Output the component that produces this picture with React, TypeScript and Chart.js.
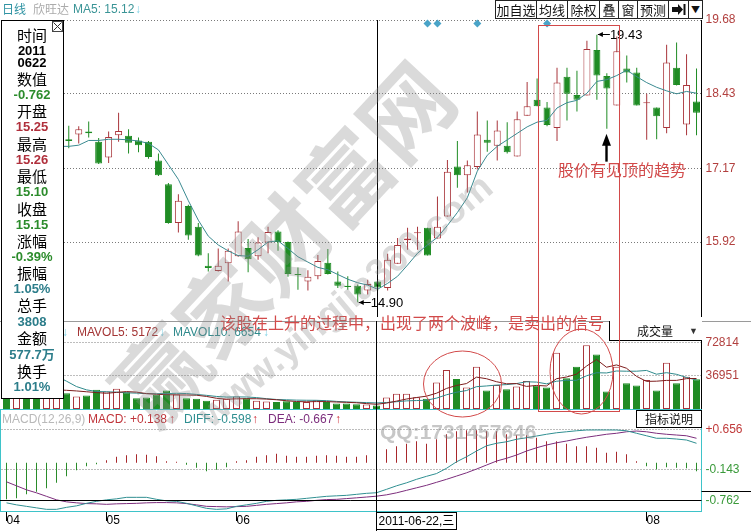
import React, { useEffect, useRef } from 'react';
import { Chart, registerables } from 'chart.js';

Chart.register(...registerables);
Chart.defaults.font.family = '"Liberation Sans", "DejaVu Sans", sans-serif';
Chart.defaults.font.size = 12;

// ---- 欣旺达 daily K-line, 70 sessions ----
const OPEN = [17.90, 17.30, 17.70, 17.60, 17.40, 17.50, 17.66, 17.74, 17.79, 17.62,
  17.35, 17.73, 17.72, 17.64, 17.62, 17.30, 16.90, 16.24, 16.53, 16.18,
  15.52, 15.43, 15.56, 15.68, 15.82, 15.68, 15.91, 16.10, 15.92, 15.37,
  15.25, 15.34, 15.57, 15.25, 15.18, 15.18, 15.10, 15.25, 15.14, 15.55,
  15.95, 16.07, 16.16, 15.98, 16.35, 17.20, 17.05, 17.19, 17.65, 17.55,
  17.55, 17.37, 18.06, 18.33, 18.20, 17.85, 18.72, 18.41, 18.40, 19.17,
  18.73, 18.23, 18.86, 18.79, 18.27, 18.20, 17.85, 18.87, 17.91, 18.30];
const HIGH = [18.30, 17.80, 17.90, 17.70, 17.75, 17.80, 17.89, 17.88, 17.96, 17.68,
  17.79, 18.11, 17.83, 17.69, 17.63, 17.42, 16.92, 16.73, 16.55, 16.24,
  15.73, 15.81, 15.81, 16.27, 15.97, 16.00, 16.18, 16.12, 15.93, 15.49,
  15.44, 15.70, 15.80, 15.42, 15.34, 15.20, 15.28, 15.26, 15.72, 15.99,
  16.16, 16.18, 16.16, 16.69, 17.31, 17.63, 17.30, 18.13, 17.98, 17.98,
  17.95, 18.13, 18.63, 18.69, 18.29, 18.87, 18.87, 18.82, 19.33, 19.43,
  18.78, 19.40, 19.08, 18.87, 18.43, 18.20, 19.26, 19.30, 19.10, 18.86];
const LOW = [17.20, 17.10, 17.30, 17.30, 17.30, 17.45, 17.51, 17.59, 17.69, 17.24,
  17.26, 17.62, 17.42, 17.44, 17.33, 17.04, 16.23, 16.08, 15.96, 15.68,
  15.42, 15.42, 15.25, 15.67, 15.41, 15.62, 15.73, 15.77, 15.33, 15.11,
  15.10, 15.29, 15.37, 15.14, 15.11, 14.90, 15.03, 15.10, 15.10, 15.55,
  15.79, 15.79, 15.69, 15.98, 16.35, 16.84, 16.76, 17.15, 17.45, 17.30,
  17.42, 17.37, 18.06, 18.22, 17.88, 17.63, 17.98, 18.13, 18.40, 18.33,
  17.84, 18.23, 18.62, 18.23, 17.65, 17.66, 17.76, 18.57, 17.73, 17.73];
const CLOSE = [17.40, 17.60, 17.40, 17.45, 17.60, 17.65, 17.63, 17.83, 17.76, 17.25,
  17.70, 17.80, 17.60, 17.56, 17.36, 17.05, 16.24, 16.62, 16.03, 15.69,
  15.48, 15.52, 15.77, 16.10, 15.63, 15.91, 16.09, 15.92, 15.38, 15.36,
  15.33, 15.60, 15.38, 15.18, 15.16, 15.03, 15.21, 15.15, 15.62, 15.87,
  15.98, 16.085, 15.69, 16.18, 17.11, 17.05, 17.22, 17.74, 17.60, 17.81,
  17.44, 18.00, 18.22, 18.22, 17.90, 18.62, 18.43, 18.33, 19.19, 18.74,
  18.52, 19.15, 18.79, 18.23, 18.285, 18.05, 18.96, 18.58, 18.58, 18.11];
const MA5 = [null, null, null, null, 17.49, 17.54, 17.54, 17.56, 17.64, 17.64,
  17.66, 17.66, 17.65, 17.63, 17.59, 17.48, 17.23, 16.98, 16.62, 16.29,
  16.02, 15.87, 15.77, 15.69, 15.68, 15.79, 15.92, 15.94, 15.81, 15.67,
  15.58, 15.49, 15.45, 15.37, 15.29, 15.23, 15.19, 15.12, 15.22, 15.34,
  15.53, 15.73, 15.87, 16.00, 16.20, 16.42, 16.67, 17.12, 17.39, 17.54,
  17.65, 17.76, 17.87, 17.95, 17.98, 18.19, 18.28, 18.32, 18.44, 18.64,
  18.67, 18.74, 18.83, 18.72, 18.62, 18.54, 18.48, 18.43, 18.47, 18.44];

// volume in lots (手)
const VOLUME = [78000, 43000, 33000, 28000, 25000, 22000, 17300, 13800, 14800, 21000,
  19200, 22100, 18400, 11900, 12700, 15600, 20300, 16300, 11900, 11300,
  9100, 10200, 11300, 13800, 11900, 9100, 8300, 7600, 8400, 7600,
  7600, 9500, 7582, 6000, 6000, 5200, 4850, 3808, 12700, 16700,
  16700, 13000, 11200, 29000, 42800, 33000, 23500, 46400, 20300, 26400,
  21700, 24600, 30800, 25700, 23500, 61600, 33700, 46400, 70000, 59700,
  19200, 46400, 28200, 25700, 31900, 20300, 50700, 28200, 35500, 32600];
const MAVOL5 = [null, null, null, null, 25000, 21000, 20500, 19800, 18900, 18000,
  17220, 18180, 19100, 18520, 16860, 16140, 15780, 15360, 15360, 15080,
  13780, 11760, 10760, 11140, 11260, 11260, 10880, 10140, 9060, 8200,
  7900, 8140, 8136, 7656, 7336, 6856, 5926, 5172, 6512, 8652,
  10952, 12582, 14060, 17320, 22540, 25800, 27900, 34940, 33200, 29920,
  27660, 27880, 24760, 25840, 25260, 33240, 35060, 38180, 47040, 54280,
  45800, 48340, 44700, 35840, 30280, 30500, 31360, 31360, 33320, 33460];
const MAVOL10 = [null, null, null, null, 40000, 36000, 30500, 24600, 21000, 19200,
  18900, 18500, 17750, 17380, 16900, 16680, 16980, 17230, 16940, 15970,
  14960, 13770, 13060, 13250, 13170, 12520, 11320, 10450, 10100, 9730,
  9580, 9510, 9138, 8358, 7768, 7378, 7033, 6654, 7084, 7994,
  8904, 9254, 9616, 11916, 15596, 18376, 20241, 24500, 25260, 26230,
  26730, 27890, 29850, 29520, 27590, 30450, 31470, 31470, 36440, 39770,
  39520, 41700, 41440, 41440, 42280, 38150, 39850, 38030, 34580, 31870];

// MACD(12,26,9)
const DIFF = [-0.80, -0.84, -0.87, -0.90, -0.93, -0.93, -0.89, -0.86, -0.81, -0.77,
  -0.74, -0.72, -0.69, -0.69, -0.69, -0.73, -0.76, -0.77, -0.81, -0.86,
  -0.91, -0.93, -0.92, -0.87, -0.84, -0.81, -0.77, -0.75, -0.74, -0.73,
  -0.71, -0.69, -0.67, -0.66, -0.65, -0.63, -0.61, -0.598, -0.53, -0.46,
  -0.40, -0.33, -0.27, -0.215, -0.11, 0.02, 0.12, 0.235, 0.34, 0.39,
  0.42, 0.47, 0.50, 0.535, 0.57, 0.60, 0.62, 0.64, 0.655, 0.656,
  0.656, 0.655, 0.64, 0.59, 0.54, 0.49, 0.49, 0.475, 0.455, 0.39];
const DEA = [-0.38, -0.46, -0.54, -0.60, -0.67, -0.74, -0.78, -0.80, -0.815, -0.82,
  -0.83, -0.82, -0.815, -0.81, -0.80, -0.795, -0.795, -0.80, -0.815, -0.84,
  -0.87, -0.875, -0.88, -0.875, -0.87, -0.85, -0.83, -0.815, -0.80, -0.78,
  -0.77, -0.75, -0.735, -0.73, -0.715, -0.70, -0.684, -0.667, -0.64, -0.60,
  -0.55, -0.50, -0.45, -0.39, -0.33, -0.265, -0.20, -0.125, -0.045, 0.035,
  0.09, 0.155, 0.235, 0.30, 0.355, 0.40, 0.435, 0.475, 0.51, 0.54,
  0.57, 0.59, 0.62, 0.635, 0.62, 0.59, 0.57, 0.555, 0.54, 0.49];
const MACD = [-0.73, -0.71, -0.63, -0.58, -0.51, -0.40, -0.27, -0.15, -0.07, -0.03,
  0.05, 0.12, 0.15, 0.17, 0.16, 0.13, 0.03, 0.02, -0.04, -0.10,
  -0.17, -0.14, -0.09, 0.03, 0.05, 0.12, 0.15, 0.18, 0.14, 0.12,
  0.12, 0.14, 0.15, 0.14, 0.12, 0.12, 0.15, 0.138, 0.27, 0.33,
  0.38, 0.43, 0.38, 0.47, 0.57, 0.63, 0.65, 0.65, 0.63, 0.63,
  0.57, 0.55, 0.55, 0.50, 0.43, 0.43, 0.38, 0.33, 0.33, 0.30,
  0.20, 0.22, 0.17, 0.03, -0.07, -0.13, -0.09, -0.10, -0.11, -0.17];

const DAYS = OPEN.map((_, i) => `T${i + 1}`);
const MONTH_TICKS = [0, 10, 23, 45, 64];
const MONTH_LABELS = ['04', '05', '06', '', '08'];
const PRICE_TICKS = [15.92, 17.17, 18.43, 19.68];
const VOLUME_TICKS = [36951, 72814];
const MACD_TICKS = [-0.762, -0.143, 0.656];
const SIGNAL_DAYS = [42, 43, 47, 54];
const SIGNAL_LEVEL = 19.62;
const CURSOR = 37;
const CURSOR_DATE = '2011-06-22,三';
const CURSOR_VALUE = -0.762;
const PEAK_DAY = 59;
const TROUGH_DAY = 35;
const ARROW_DAY = 60;

const IS_UP = OPEN.map((o, i) => CLOSE[i] >= o);

const RED = '#a9353b';
const GREEN = '#1f8c24';
const AXIS_RED = '#b2403f';
const TEAL = '#3ec3c9';
const NOTE_RED = '#d24a4a';

// session centre on the shared 10px-per-day layout (chart area starts at x = 1.5)
const xAt = (i: number) => 6.5 + 10 * i;

function dottedGrid(skip: number[]) {
  return {
    id: 'dottedGrid',
    beforeDatasetsDraw(chart: any) {
      const { ctx, chartArea: a } = chart;
      const ys = chart.scales.y;
      ctx.save();
      ctx.strokeStyle = '#7a7a7a';
      ctx.lineWidth = 1;
      ctx.setLineDash([1, 2]);
      for (const t of ys.ticks) {
        if (skip.includes(t.value)) continue;
        const y = Math.floor(ys.getPixelForValue(t.value)) + 0.5;
        ctx.beginPath();
        ctx.moveTo(a.left, y);
        ctx.lineTo(a.right, y);
        ctx.stroke();
      }
      ctx.restore();
    },
  };
}

function panelEdge(color: string) {
  return {
    id: 'panelEdge',
    afterDraw(chart: any) {
      const { ctx, chartArea: a } = chart;
      const x = Math.floor(a.right) + 0.5;
      ctx.save();
      ctx.strokeStyle = color;
      ctx.lineWidth = 1;
      ctx.beginPath();
      ctx.moveTo(x, a.top);
      ctx.lineTo(x, a.bottom);
      ctx.stroke();
      ctx.restore();
    },
  };
}

function cursorLine(full: boolean) {
  return {
    id: 'cursorLine',
    afterDraw(chart: any) {
      const { ctx, chartArea: a } = chart;
      const x = Math.floor(chart.scales.x.getPixelForValue(CURSOR)) + 0.5;
      ctx.save();
      ctx.strokeStyle = '#000';
      ctx.lineWidth = 1;
      ctx.beginPath();
      ctx.moveTo(x, a.top);
      ctx.lineTo(x, full ? chart.height : a.bottom);
      ctx.stroke();
      ctx.restore();
    },
  };
}

const priceNotes = {
  id: 'priceNotes',
  afterDatasetsDraw(chart: any) {
    const { ctx } = chart;
    const xs = chart.scales.x;
    const ys = chart.scales.y;
    const note = (day: number, value: number) => {
      const x = xs.getPixelForValue(day);
      const y = Math.floor(ys.getPixelForValue(value)) + 0.5;
      ctx.strokeStyle = '#000';
      ctx.fillStyle = '#000';
      ctx.lineWidth = 1;
      ctx.beginPath();
      ctx.moveTo(x + 1, y);
      ctx.lineTo(x + 13, y);
      ctx.stroke();
      ctx.beginPath();
      ctx.moveTo(x + 1, y);
      ctx.lineTo(x + 6, y - 2.5);
      ctx.lineTo(x + 6, y + 2.5);
      ctx.closePath();
      ctx.fill();
      ctx.font = '13px "Liberation Sans"';
      ctx.textAlign = 'left';
      ctx.textBaseline = 'middle';
      ctx.fillText(value.toFixed(2), x + 13, y + 1);
    };
    ctx.save();
    note(PEAK_DAY, HIGH[PEAK_DAY]);
    note(TROUGH_DAY, LOW[TROUGH_DAY]);
    // upward arrow under the pull-back session
    const ax = Math.floor(xs.getPixelForValue(ARROW_DAY)) + 0.5;
    const tip = ys.getPixelForValue(LOW[ARROW_DAY]) + 5;
    ctx.fillStyle = '#000';
    ctx.beginPath();
    ctx.moveTo(ax, tip);
    ctx.lineTo(ax - 4.5, tip + 12);
    ctx.lineTo(ax + 4.5, tip + 12);
    ctx.closePath();
    ctx.fill();
    ctx.fillRect(ax - 1.2, tip + 10, 2.4, 18);
    ctx.restore();
  },
};

const volumeFrame = {
  id: 'volumeFrame',
  afterDraw(chart: any) {
    const { ctx } = chart;
    ctx.save();
    ctx.strokeStyle = '#9a9a9a';
    ctx.lineWidth = 1;
    ctx.beginPath();
    ctx.moveTo(0, 0.5);
    ctx.lineTo(chart.width, 0.5);
    ctx.stroke();
    ctx.restore();
  },
};

const macdFrame = {
  id: 'macdFrame',
  afterDraw(chart: any) {
    const { ctx, chartArea: a } = chart;
    const xs = chart.scales.x;
    const ys = chart.scales.y;
    ctx.save();
    ctx.strokeStyle = TEAL;
    ctx.lineWidth = 1;
    ctx.strokeRect(0.5, 0.5, Math.floor(a.right), Math.floor(a.bottom));
    // horizontal crosshair
    const hy = Math.floor(ys.getPixelForValue(CURSOR_VALUE)) + 0.5;
    ctx.strokeStyle = '#000';
    ctx.beginPath();
    ctx.moveTo(0, hy);
    ctx.lineTo(a.right, hy);
    ctx.stroke();
    ctx.beginPath();
    ctx.moveTo(a.right, hy - 9);
    ctx.lineTo(chart.width, hy - 9);
    ctx.stroke();
    // date box on the time axis
    const cx = Math.floor(xs.getPixelForValue(CURSOR)) + 0.5;
    const top = Math.floor(a.bottom) + 1.5;
    ctx.fillStyle = '#fff';
    ctx.fillRect(cx, top, 80, 17);
    ctx.strokeRect(cx, top, 80, 17);
    ctx.fillStyle = '#000';
    ctx.font = '12px "Liberation Sans", "Noto Sans CJK SC"';
    ctx.textAlign = 'left';
    ctx.textBaseline = 'middle';
    ctx.fillText(CURSOR_DATE, cx + 2, top + 9);
    ctx.restore();
  },
};

function rightAxis(min: number, max: number, ticks: number[], fmt: (v: number) => string, color: any) {
  return {
    position: 'right',
    min,
    max,
    afterBuildTicks: (s: any) => { s.ticks = ticks.map((v) => ({ value: v })); },
    afterFit: (s: any) => { s.width = 49.5; s.paddingTop = 0; s.paddingBottom = 0; },
    grid: { display: false, drawTicks: false },
    border: { display: false },
    ticks: { color, padding: 4, autoSkip: false, font: { size: 12 }, callback: (v: any) => fmt(Number(v)) },
  };
}

const hiddenX = {
  type: 'category', display: false, offset: true, grid: { display: false },
  afterFit: (s: any) => { s.paddingLeft = 0; s.paddingRight = 0; },
};

const baseOptions = (padTop: number) => ({
  responsive: false,
  animation: false,
  events: [],
  layout: { padding: { left: 1.5, top: padTop, right: 0, bottom: 0 } },
  plugins: { legend: { display: false }, tooltip: { enabled: false } },
});

function mainConfig() {
  const edge = IS_UP.map((u) => (u ? RED : GREEN));
  const fill = IS_UP.map((u, i) => (u ? (Math.abs(CLOSE[i] - OPEN[i]) < 0.035 ? RED : '#ffffff') : GREEN));
  const signals = DAYS.map((_, i) => (SIGNAL_DAYS.includes(i) ? SIGNAL_LEVEL : null));
  return {
    type: 'bar',
    data: {
      labels: DAYS,
      datasets: [
        { type: 'line', data: signals, showLine: false, pointStyle: 'rectRot', pointRadius: 4, pointBackgroundColor: '#4aa4c8', pointBorderWidth: 0, order: -1, clip: false },
        { type: 'line', data: MA5, borderColor: '#3a8a90', borderWidth: 1, pointRadius: 0, tension: 0, order: 0 },
        { type: 'bar', data: OPEN.map((o, i) => [o, CLOSE[i]]), barThickness: 7, minBarLength: 1, backgroundColor: fill, borderColor: edge, borderWidth: 1, borderSkipped: false, grouped: false, inflateAmount: 0, order: 1 },
        { type: 'bar', data: LOW.map((l, i) => [l, HIGH[i]]), barThickness: 1, backgroundColor: edge, borderWidth: 0, grouped: false, inflateAmount: 0, order: 2 },
      ],
    },
    options: {
      ...baseOptions(20),
      scales: {
        x: hiddenX,
        y: rightAxis(14.65, 19.68, PRICE_TICKS, (v) => v.toFixed(2), AXIS_RED),
      },
    },
    plugins: [dottedGrid([]), priceNotes, panelEdge('#000'), cursorLine(false)],
  };
}

function volumeConfig() {
  const edge = IS_UP.map((u) => (u ? RED : GREEN));
  const fill = IS_UP.map((u) => (u ? '#ffffff' : GREEN));
  return {
    type: 'bar',
    data: {
      labels: DAYS,
      datasets: [
        { type: 'line', data: MAVOL5, borderColor: '#7e1d1d', borderWidth: 1, pointRadius: 0, order: 0 },
        { type: 'line', data: MAVOL10, borderColor: '#2f8a8c', borderWidth: 1, pointRadius: 0, order: 0 },
        { type: 'bar', data: VOLUME, barThickness: 7, backgroundColor: fill, borderColor: edge, borderWidth: 1, borderSkipped: false, grouped: false, inflateAmount: 0, order: 1 },
      ],
    },
    options: {
      ...baseOptions(0),
      scales: {
        x: hiddenX,
        y: rightAxis(0, 96500, VOLUME_TICKS, (v) => String(Math.round(v)), AXIS_RED),
      },
    },
    plugins: [dottedGrid([]), volumeFrame, panelEdge('#000'), cursorLine(false)],
  };
}

function macdConfig() {
  const tickColor = (c: any) => (MONTH_TICKS.includes(c.index) ? '#000' : 'rgba(0,0,0,0)');
  return {
    type: 'bar',
    data: {
      labels: DAYS,
      datasets: [
        { type: 'line', data: DIFF, borderColor: '#2f8f91', borderWidth: 1, pointRadius: 0, order: 0 },
        { type: 'line', data: DEA, borderColor: '#7c2d7c', borderWidth: 1, pointRadius: 0, order: 0 },
        { type: 'bar', data: MACD, barThickness: 1, backgroundColor: MACD.map((v) => (v >= 0 ? '#a8282c' : '#2a8c2a')), borderWidth: 0, grouped: false, inflateAmount: 0, order: 1 },
      ],
    },
    options: {
      ...baseOptions(0),
      scales: {
        x: {
          type: 'category',
          offset: true,
          afterFit: (s: any) => { s.height = 20; s.paddingLeft = 0; s.paddingRight = 0; },
          grid: { display: true, drawOnChartArea: false, drawTicks: true, tickLength: 10, offset: false, lineWidth: 1, color: tickColor, tickColor },
          border: { display: false },
          ticks: {
            autoSkip: false, maxRotation: 0, minRotation: 0, align: 'start', padding: -8, color: '#000', font: { size: 12 },
            callback: (_v: any, i: number) => { const k = MONTH_TICKS.indexOf(i); return k >= 0 ? MONTH_LABELS[k] : ''; },
          },
        },
        y: rightAxis(-0.963, 1.075, MACD_TICKS, (v) => (v > 0 ? '+' : '') + v.toFixed(3),
          (c: any) => (c.tick && c.tick.value > 0 ? '#c03a3a' : '#3a9a3a')),
      },
    },
    plugins: [dottedGrid([CURSOR_VALUE]), macdFrame, cursorLine(true)],
  };
}

const INFO_ROWS: Array<[string, number, string]> = [
  ['时间', 35, 'label'], ['2011', 51, 'date'], ['0622', 63, 'date'],
  ['数值', 79, 'label'], ['-0.762', 95, 'green'],
  ['开盘', 111, 'label'], ['15.25', 127, 'red'],
  ['最高', 144, 'label'], ['15.26', 160, 'red'],
  ['最低', 176, 'label'], ['15.10', 192, 'green'],
  ['收盘', 209, 'label'], ['15.15', 225, 'green'],
  ['涨幅', 241, 'label'], ['-0.39%', 257, 'green'],
  ['振幅', 273, 'label'], ['1.05%', 289, 'teal'],
  ['总手', 305, 'label'], ['3808', 321.5, 'teal'],
  ['金额', 338, 'label'], ['577.7万', 355, 'teal'],
  ['换手', 371, 'label'], ['1.01%', 387, 'teal'],
];
const INFO_COLORS: Record<string, string> = { date: '#000', green: '#2c8c2c', red: '#b0303c', teal: '#2c7d8a' };

const TOOLBAR: Array<[string, number, number]> = [
  ['加自选', 495, 536], ['均线', 536, 567], ['除权', 567, 599], ['叠', 599, 618],
  ['窗', 618, 637], ['预测', 637, 668], ['', 668, 688], ['▼', 688, 702],
];

const CJK = '"Noto Sans CJK SC", "Liberation Sans", sans-serif';
const LAT = '"Liberation Sans", "DejaVu Sans", "Noto Sans CJK SC", sans-serif';

function Txt(props: { x: number; y: number; color: string; size?: number; font?: string; bold?: boolean; children: React.ReactNode }) {
  const size = props.size ?? 12;
  return (
    <div style={{ position: 'absolute', left: props.x, top: props.y - 8, lineHeight: '16px', height: 16, fontSize: size, color: props.color, fontFamily: props.font ?? LAT, fontWeight: props.bold ? 700 : 400, whiteSpace: 'nowrap' }}>
      {props.children}
    </div>
  );
}

export default function App() {
  const mainRef = useRef<HTMLCanvasElement | null>(null);
  const volRef = useRef<HTMLCanvasElement | null>(null);
  const macdRef = useRef<HTMLCanvasElement | null>(null);

  useEffect(() => {
    const charts = [
      new Chart(mainRef.current as HTMLCanvasElement, mainConfig() as any),
      new Chart(volRef.current as HTMLCanvasElement, volumeConfig() as any),
      new Chart(macdRef.current as HTMLCanvasElement, macdConfig() as any),
    ];
    return () => charts.forEach((c) => c.destroy());
  }, []);

  const canvasStyle = (top: number): React.CSSProperties => ({ position: 'absolute', left: 0, top });

  return (
    <div style={{ position: 'absolute', left: 0, top: 0, width: 751, height: 531, background: '#fff', overflow: 'hidden', fontFamily: LAT }}>
      <canvas ref={mainRef} width={751} height={321} style={canvasStyle(0)} />
      <canvas ref={volRef} width={751} height={88} style={canvasStyle(321)} />
      <canvas ref={macdRef} width={751} height={122} style={canvasStyle(409)} />

      {/* title row */}
      <Txt x={2} y={9} color="#2f93a3" font={CJK}>日线</Txt>
      <Txt x={33} y={9} color="#ababab" font={CJK}>欣旺达</Txt>
      <Txt x={73} y={9} color="#3a9496">MA5: 15.12</Txt>
      <Txt x={135} y={9} color="#7fd3e6" bold>↓</Txt>

      {/* toolbar */}
      {TOOLBAR.map(([t, l, r], i) => (
        <div key={i} style={{ position: 'absolute', left: l, top: 0, width: r - l + 1, height: 19, boxSizing: 'border-box', border: '1px solid #222', background: '#fff', fontFamily: CJK, fontSize: t === '▼' ? 9 : 13, lineHeight: '17px', textAlign: 'center', color: '#111' }}>
          {t === '' ? (
            <svg width={18} height={17} style={{ display: 'block' }}>
              <polygon points="3,6 9,6 9,3 14,8.5 9,14 9,11 3,11" fill="#111" />
              <rect x={14.5} y={3} width={2} height={11} fill="#111" />
            </svg>
          ) : t}
        </div>
      ))}

      {/* volume header */}
      <Txt x={62} y={332} color="#7fd3e6" bold>↓</Txt>
      <Txt x={77} y={332} color="#a33434">MAVOL5: 5172</Txt>
      <Txt x={159} y={332} color="#7fd3e6" bold>↓</Txt>
      <Txt x={173} y={332} color="#2f8a8c">MAVOL10: 6654</Txt>
      <Txt x={263} y={332} color="#7fd3e6" bold>↓</Txt>
      <div style={{ position: 'absolute', left: 609, top: 321, width: 93, height: 20, boxSizing: 'border-box', borderLeft: '1px solid #000', borderBottom: '1px solid #000', background: '#fff' }} />
      <Txt x={637} y={331} color="#111" font={CJK}>成交量</Txt>
      <Txt x={689} y={331} color="#333" size={9}>▼</Txt>

      {/* MACD header */}
      <Txt x={2} y={419} color="#b9b9b9">MACD(12,26,9)</Txt>
      <Txt x={88} y={419} color="#c0343a">MACD: +0.138</Txt>
      <Txt x={169} y={419} color="#d0303a" bold>↑</Txt>
      <Txt x={184} y={419} color="#2f8f91">DIFF: -0.598</Txt>
      <Txt x={252} y={419} color="#d0303a" bold>↑</Txt>
      <Txt x={268} y={419} color="#7c2d7c">DEA: -0.667</Txt>
      <Txt x={335} y={419} color="#d0303a" bold>↑</Txt>
      <div style={{ position: 'absolute', left: 636, top: 410, width: 66, height: 18, boxSizing: 'border-box', border: '1px solid #000', background: '#fff', fontFamily: CJK, fontSize: 12, lineHeight: '16px', textAlign: 'center', color: '#111' }}>指标说明</div>

      {/* annotations */}
      <svg width={751} height={531} style={{ position: 'absolute', left: 0, top: 0, pointerEvents: 'none' }}>
        <rect x={xAt(53) + 2} y={25.5} width={81} height={386} fill="none" stroke={NOTE_RED} strokeWidth={1} />
        <ellipse cx={xAt(45.6)} cy={384} rx={39} ry={33} fill="none" stroke={NOTE_RED} strokeWidth={1} />
        <ellipse cx={xAt(57.5)} cy={371.5} rx={31.5} ry={42.5} fill="none" stroke={NOTE_RED} strokeWidth={1} />
        <text x={558} y={176} fill={NOTE_RED} fontSize={16} fontFamily={CJK}>股价有见顶的趋势</text>
        <text x={220} y={329} fill={NOTE_RED} fontSize={16} fontFamily={CJK}>该股在上升的过程中，出现了两个波峰，是卖出的信号</text>
      </svg>

      {/* quote panel */}
      <div style={{ position: 'absolute', left: 1, top: 20, width: 63, height: 379, boxSizing: 'border-box', border: '1px solid #000', background: '#fff' }} />
      <div style={{ position: 'absolute', left: 52, top: 21, width: 11, height: 11, boxSizing: 'border-box', border: '1px solid #444', background: '#fff' }}>
        <svg width={9} height={9} style={{ display: 'block' }}>
          <line x1={0.5} y1={0.5} x2={8.5} y2={8.5} stroke="#333" strokeWidth={1} />
          <line x1={8.5} y1={0.5} x2={0.5} y2={8.5} stroke="#333" strokeWidth={1} />
        </svg>
      </div>
      {INFO_ROWS.map(([t, y, kind], i) => (
        <div key={i} style={{ position: 'absolute', left: 1, width: 62, top: y - 9, height: 18, lineHeight: '18px', textAlign: 'center', whiteSpace: 'nowrap',
          fontFamily: kind === 'label' ? CJK : LAT, fontSize: kind === 'label' ? 15 : 13, fontWeight: kind === 'label' ? 400 : 700,
          color: kind === 'label' ? '#000' : INFO_COLORS[kind] }}>{t}</div>
      ))}

      {/* site watermark */}
      <svg width={751} height={531} style={{ position: 'absolute', left: 0, top: 0, pointerEvents: 'none' }}>
        <text x={280} y={240} transform="rotate(-47 280 240)" textAnchor="middle" dominantBaseline="central" fontSize={90} fontWeight={700} fontFamily={CJK} fill="rgba(140,140,140,0.32)">赢家财富网</text>
        <text x={345} y={300} transform="rotate(-40 345 300)" textAnchor="middle" dominantBaseline="central" fontSize={38} fontWeight={700} fontFamily={LAT} fill="rgba(140,140,140,0.32)">www.yingjia360.com</text>
        <text x={380} y={439} fontSize={21} fontWeight={700} fontFamily={LAT} fill="rgba(130,130,130,0.45)">QQ:1731457646</text>
      </svg>
    </div>
  );
}
